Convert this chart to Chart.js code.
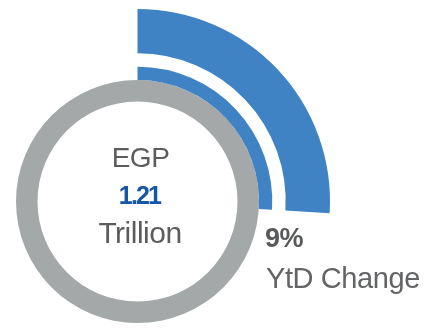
<!DOCTYPE html>
<html>
<head>
<meta charset="utf-8">
<script src="https://cdn.jsdelivr.net/npm/chart.js@4/dist/chart.umd.min.js"></script>
<style>
  html, body { margin: 0; padding: 0; background: #ffffff; overflow: hidden; }
  #wrap { position: relative; width: 436px; height: 332px; }
  canvas { display: block; }
</style>
</head>
<body>
<div id="wrap"><canvas id="c" width="436" height="332"></canvas></div>
<script>
// Sweep of the year-to-date arcs (degrees) and the remaining transparent part
const ytdSweep = [93.5, 266.5];
// Full total ring
const totalRing = [360];
// Relative thickness of each ring, outermost first: outer arc, gap, inner arc, total ring
const ringWeights = [44.3, 13.4, 13.3, 21.5];

// Text
const totalLabel = ['EGP', '1.21', 'Trillion'];
const changeLabel = ['9%', 'YtD Change'];

const BLUE = '#3f83c4';
const GREY = '#a5a8a9';
const NONE = 'rgba(0,0,0,0)';

const textPlugin = {
  id: 'labels',
  afterDraw(chart) {
    const ctx = chart.ctx;
    ctx.save();
    ctx.textBaseline = 'alphabetic';
    const font = 'Liberation Sans, Arial, Helvetica, sans-serif';

    ctx.textAlign = 'center';
    ctx.fillStyle = '#5b5c5e';
    ctx.font = '28px ' + font;
    ctx.letterSpacing = '-0.5px';
    ctx.fillText(totalLabel[0], 140.5, 166.5);

    ctx.fillStyle = '#1656a6';
    ctx.font = 'bold 25px ' + font;
    ctx.letterSpacing = '-1.8px';
    ctx.fillText(totalLabel[1], 139.5, 204);

    ctx.fillStyle = '#5b5c5e';
    ctx.font = '30px ' + font;
    ctx.letterSpacing = '-0.5px';
    ctx.fillText(totalLabel[2], 140, 242.5);

    ctx.textAlign = 'left';
    ctx.fillStyle = '#58595b';
    ctx.font = 'bold 27px ' + font;
    ctx.letterSpacing = '-0.5px';
    ctx.fillText(changeLabel[0], 265, 247);

    ctx.fillStyle = '#636466';
    ctx.font = '29px ' + font;
    ctx.letterSpacing = '-0.4px';
    ctx.fillText(changeLabel[1], 266, 287.5);
    ctx.restore();
  }
};

new Chart(document.getElementById('c'), {
  type: 'doughnut',
  data: {
    labels: ['YtD', 'Rest'],
    datasets: [
      { data: ytdSweep, backgroundColor: [BLUE, NONE], weight: ringWeights[0] },
      { data: totalRing, backgroundColor: [NONE], weight: ringWeights[1] },
      { data: ytdSweep, backgroundColor: [BLUE, NONE], weight: ringWeights[2] },
      { data: totalRing, backgroundColor: [GREY], weight: ringWeights[3] }
    ]
  },
  options: {
    responsive: false,
    animation: false,
    events: [],
    radius: 192.5,
    cutout: (100 / 192.5 * 100) + '%',
    rotation: 0,
    borderWidth: 0,
    clip: false,
    layout: { padding: { left: 0, right: 161, top: 71, bottom: 0 } },
    plugins: {
      legend: { display: false },
      tooltip: { enabled: false }
    }
  },
  plugins: [textPlugin]
});
</script>
</body>
</html>
